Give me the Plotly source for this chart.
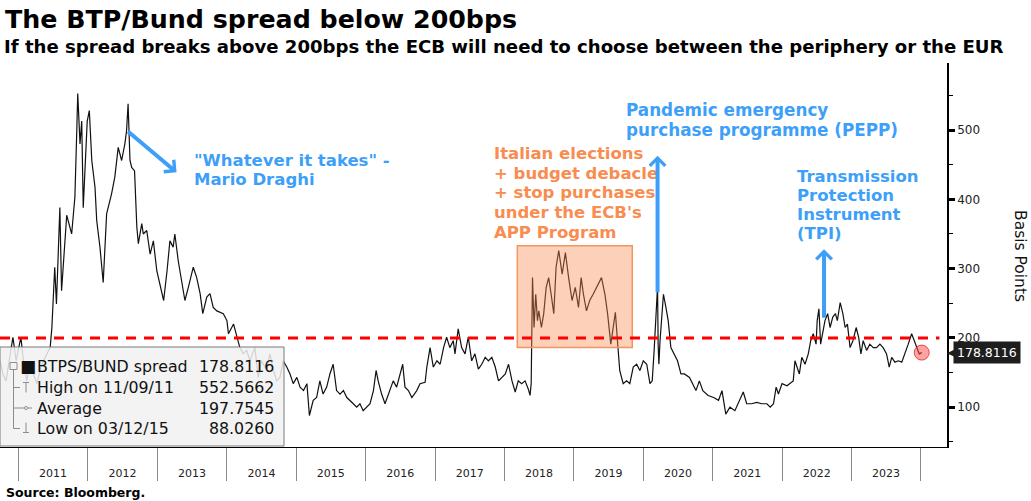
import plotly.graph_objects as go

# ---------------- data ----------------
dates = [
 "2010-09-27","2010-10-11","2010-10-28","2010-11-15","2010-12-03","2010-12-20","2011-01-14","2011-01-27",
 "2011-02-14","2011-03-04","2011-03-21","2011-04-08","2011-04-25","2011-05-13","2011-05-30","2011-06-17",
 "2011-06-26","2011-07-11","2011-07-20","2011-08-07","2011-08-16","2011-09-12","2011-10-08","2011-10-25",
 "2011-11-04","2011-11-09","2011-11-21","2011-11-30","2011-12-08","2011-12-22","2011-12-29","2012-01-09",
 "2012-01-22","2012-02-08","2012-02-17","2012-03-05","2012-03-22","2012-04-09","2012-05-05","2012-05-22",
 "2012-06-09","2012-06-27","2012-07-14","2012-07-23","2012-07-31","2012-08-10","2012-08-19","2012-09-03",
 "2012-09-15","2012-09-23","2012-10-11","2012-10-19","2012-11-06","2012-11-24","2012-12-11","2012-12-29",
 "2013-01-16","2013-02-03","2013-02-21","2013-03-08","2013-03-25","2013-04-03","2013-04-21","2013-05-09",
 "2013-05-26","2013-06-13","2013-07-09","2013-07-27","2013-08-14","2013-08-28","2013-09-18","2013-10-05",
 "2013-10-22","2013-11-10","2013-11-27","2013-12-14","2014-01-02","2014-01-10","2014-02-06","2014-02-24",
 "2014-03-11","2014-03-29","2014-04-16","2014-05-03","2014-05-29","2014-06-16","2014-07-03","2014-07-30",
 "2014-08-16","2014-09-04","2014-09-21","2014-10-08","2014-10-25","2014-11-13","2014-11-30","2014-12-17",
 "2015-01-05","2015-01-22","2015-02-09","2015-02-27","2015-03-12","2015-04-01","2015-04-19","2015-05-06",
 "2015-05-23","2015-06-11","2015-06-28","2015-07-15","2015-08-02","2015-08-20","2015-09-07","2015-09-25",
 "2015-10-12","2015-10-29","2015-11-16","2015-12-03","2015-12-20","2016-01-08","2016-01-25","2016-02-12",
 "2016-02-26","2016-03-08","2016-03-26","2016-04-13","2016-04-30","2016-05-09","2016-05-26","2016-06-13",
 "2016-07-01","2016-07-15","2016-07-27","2016-08-14","2016-09-01","2016-09-27","2016-10-14","2016-11-10",
 "2016-11-19","2016-12-06","2016-12-23","2017-01-11","2017-01-28","2017-02-15","2017-03-03","2017-03-20",
 "2017-04-07","2017-04-16","2017-05-03","2017-05-21","2017-06-08","2017-06-25","2017-07-13","2017-07-30",
 "2017-08-17","2017-09-04","2017-09-22","2017-10-09","2017-10-27","2017-11-14","2017-12-01","2017-12-19",
 "2018-01-06","2018-01-23","2018-02-10","2018-02-27","2018-03-15","2018-04-02","2018-04-20","2018-05-07",
 "2018-05-16","2018-05-22","2018-05-25","2018-05-29","2018-06-06","2018-06-15","2018-06-24","2018-07-01",
 "2018-07-15","2018-07-27","2018-08-09","2018-08-22","2018-09-04","2018-09-18","2018-09-30","2018-10-14",
 "2018-11-01","2018-11-18","2018-12-05","2018-12-23","2019-01-09","2019-01-26","2019-02-09","2019-02-21",
 "2019-03-09","2019-03-26","2019-04-13","2019-05-09","2019-05-27","2019-06-14","2019-06-28","2019-07-15",
 "2019-07-27","2019-08-08","2019-08-19","2019-08-31","2019-09-18","2019-10-06","2019-10-23","2019-11-10",
 "2019-11-28","2019-12-15","2020-01-02","2020-01-20","2020-02-06","2020-02-18","2020-02-28","2020-03-11",
 "2020-03-17","2020-03-20","2020-03-24","2020-03-30","2020-04-17","2020-04-30","2020-05-12","2020-05-26",
 "2020-06-13","2020-06-30","2020-07-18","2020-08-05","2020-09-01","2020-09-18","2020-10-05","2020-10-23",
 "2020-11-10","2020-12-08","2021-01-06","2021-02-01","2021-02-19","2021-03-11","2021-04-02","2021-04-28",
 "2021-05-24","2021-06-11","2021-06-29","2021-07-25","2021-08-21","2021-09-17","2021-10-13","2021-10-31",
 "2021-11-17","2021-12-01","2021-12-13","2022-01-01","2022-01-27","2022-02-22","2022-03-01","2022-03-10",
 "2022-03-22","2022-04-02","2022-04-15","2022-05-02","2022-05-19","2022-06-01","2022-06-14","2022-06-29",
 "2022-07-05","2022-07-14","2022-07-23","2022-08-03","2022-08-15","2022-08-29","2022-09-11","2022-09-25",
 "2022-10-09","2022-10-19","2022-11-03","2022-11-17","2022-11-29","2022-12-11","2022-12-25","2023-01-09",
 "2023-01-26","2023-02-08","2023-02-20","2023-03-04","2023-03-22","2023-04-08","2023-04-26","2023-05-13",
 "2023-05-31","2023-06-17","2023-07-05","2023-07-19","2023-08-01","2023-08-18","2023-09-05","2023-09-23",
 "2023-10-10","2023-10-27","2023-11-14","2023-11-27","2023-12-10","2023-12-24","2024-01-06",
]
spread_bps = [
 167,148,138,167,201,167,201,167,
 138,167,148,134,153,167,177,186,
 215,302,249,388,268,377,350,403,
 499,552.5662,480,513,388,490,513,528,
 456,417,369,331,280,379,408,432,
 475,456,480,499,538,456,446,441,
 360,336,365,350,355,321,340,297,
 273,254,297,340,331,350,311,278,
 254,273,302,287,264,235,259,264,
 244,239,237,235,225,206,220,201,
 186,177,182,167,186,143,167,153,
 177,153,138,143,167,158,148,134,
 143,129,124,134,88.026,110,114,138,
 119,129,148,162,124,119,124,114,
 110,105,100,105,95,100,105,124,
 153,138,119,105,119,124,138,129,
 148,162,129,124,114,124,134,136,
 158,186,158,167,162,186,201,186,
 196,177,213,186,177,201,167,177,
 155,162,172,167,172,158,138,143,
 148,162,138,122,138,134,138,126,
 117,134,191,287,215,263,225,239,
 215,235,273,287,263,235,302,326,
 292,323,287,254,273,244,287,263,
 239,254,263,278,287,263,235,191,
 215,237,196,153,134,138,134,158,
 162,153,167,162,134,138,182,240,
 275,191,162,196,263,244,225,186,
 177,167,148,148,143,134,124,138,
 124,117,114,110,124,90,100,95,
 110,122,105,105,107,105,105,100,
 105,129,119,134,131,136,138,167,
 158,148,172,162,177,196,206,191,
 225,242,191,206,225,235,215,230,
 235,225,251,235,215,220,186,196,
 215,201,177,196,182,191,186,186,
 191,186,177,158,172,165,167,165,
 177,191,206,196,186,177,178.8116,
]
threshold_bps = 200
last_value = 178.8116

legend_labels = ["BTPS/BUND spread", "High on 11/09/11", "Average", "Low on 03/12/15"]
legend_values = ["178.8116", "552.5662", "197.7545", "88.0260"]

# annotation periods / anchor points
box_period = ["2018-03-10", "2019-11-05"]
box_range = [186, 333]
draghi_head = ("2013-04-12", 439)
pepp_head = ("2020-03-17", 463)
tpi_head = ("2022-08-10", 328)

draghi_lines = ['"Whatever it takes" -', 'Mario Draghi']
pepp_lines = ['Pandemic emergency', 'purchase programme (PEPP)']
italy_lines = ['Italian elections', '+ budget debacle', '+ stop purchases', "under the ECB's", 'APP Program']
tpi_lines = ['Transmission', 'Protection', 'Instrument', '(TPI)']

# ---------------- layout helpers (pixels -> paper) ----------------
W, H = 1031, 501
L, R, T, B = 0, 84, 63, 54
PW, PH = W - L - R, H - T - B
def px(x):
    return (x - L) / PW
def py(y):
    return (H - B - y) / PH

BLUE = "#3d9ff8"
ORANGE = "#f98c50"
FONT = "DejaVu Sans"

fig = go.Figure()
fig.add_trace(go.Scatter(x=dates, y=spread_bps, mode="lines",
                         line=dict(color="#111111", width=1.2), hoverinfo="x+y",
                         showlegend=False))
fig.add_trace(go.Scatter(x=[dates[-1]], y=[last_value], mode="markers",
                         marker=dict(size=15, color="rgba(255,70,70,0.5)",
                                     line=dict(color="rgba(230,40,40,0.8)", width=1)),
                         showlegend=False, hoverinfo="skip"))

GREY = "#8c8c8c"
rows_y = [366, 387.5, 408, 428.5]
shapes = [
    dict(type="rect", xref="x", yref="y", x0=box_period[0], x1=box_period[1],
         y0=box_range[0], y1=box_range[1], fillcolor="rgba(250,140,80,0.40)",
         line=dict(color="#f3955e", width=1.5), layer="above"),
    dict(type="line", xref="paper", yref="y", x0=0, x1=0.992, y0=threshold_bps, y1=threshold_bps,
         line=dict(color="#ff0000", width=3, dash="10px,8px"), layer="above"),
    dict(type="rect", xref="paper", yref="paper", x0=px(0), x1=px(284), y0=py(446), y1=py(347),
         fillcolor="rgba(241,241,241,0.86)", line=dict(color="#7a7a7a", width=1), layer="above"),
    # legend tree decoration
    dict(type="rect", xref="paper", yref="paper", x0=px(10), x1=px(17), y0=py(rows_y[0] + 3.5),
         y1=py(rows_y[0] - 3.5), line=dict(color=GREY, width=1), fillcolor="rgba(0,0,0,0)", layer="above"),
    dict(type="line", xref="paper", yref="paper", x0=px(13.5), x1=px(13.5), y0=py(rows_y[0] + 4),
         y1=py(rows_y[3]), line=dict(color=GREY, width=1), layer="above"),
]
for ry in rows_y[1:]:
    shapes.append(dict(type="line", xref="paper", yref="paper", x0=px(13.5), x1=px(20), y0=py(ry),
                       y1=py(ry), line=dict(color=GREY, width=1), layer="above"))
shapes += [
    dict(type="line", xref="paper", yref="paper", x0=px(20), x1=px(32), y0=py(rows_y[2]),
         y1=py(rows_y[2]), line=dict(color=GREY, width=1), layer="above"),
    dict(type="line", xref="paper", yref="paper", x0=px(26), x1=px(26), y0=py(rows_y[1] - 5),
         y1=py(rows_y[1] + 5), line=dict(color=GREY, width=1), layer="above"),
    dict(type="line", xref="paper", yref="paper", x0=px(23), x1=px(29), y0=py(rows_y[1] - 5),
         y1=py(rows_y[1] - 5), line=dict(color=GREY, width=1), layer="above"),
    dict(type="line", xref="paper", yref="paper", x0=px(26), x1=px(26), y0=py(rows_y[3] - 6),
         y1=py(rows_y[3] + 4), line=dict(color=GREY, width=1), layer="above"),
    dict(type="line", xref="paper", yref="paper", x0=px(23), x1=px(29), y0=py(rows_y[3] + 4),
         y1=py(rows_y[3] + 4), line=dict(color=GREY, width=1), layer="above"),
    dict(type="circle", xref="paper", yref="paper", x0=px(24.5), x1=px(27.5), y0=py(rows_y[2] + 1.5),
         y1=py(rows_y[2] - 1.5), line=dict(color=GREY, width=1), fillcolor="white", layer="above"),
]

ann = []
# title / subtitle / source
ann.append(dict(text="<b>The BTP/Bund spread below 200bps</b>", xref="paper", yref="paper",
                x=px(3), y=py(20), xanchor="left", yanchor="middle", showarrow=False,
                font=dict(family=FONT, size=25.3, color="#000")))
ann.append(dict(text="<b>If the spread breaks above 200bps the ECB will need to choose between the periphery or the EUR</b>",
                xref="paper", yref="paper", x=px(2), y=py(46), xanchor="left", yanchor="middle",
                showarrow=False, font=dict(family=FONT, size=18.1, color="#000")))
ann.append(dict(text="<b>Source: Bloomberg.</b>", xref="paper", yref="paper", x=px(4), y=py(492),
                xanchor="left", yanchor="middle", showarrow=False,
                font=dict(family=FONT, size=12.5, color="#000")))
ann.append(dict(text="Basis Points", xref="paper", yref="paper", x=px(1020), y=py(256),
                xanchor="center", yanchor="middle", showarrow=False, textangle=90,
                font=dict(family=FONT, size=15.5, color="#111")))

def text_block(lines, x0, y0, step, color, size=16.5):
    for i, t in enumerate(lines):
        ann.append(dict(text="<b>" + t + "</b>", xref="paper", yref="paper", x=px(x0),
                        y=py(y0 + i * step), xanchor="left", yanchor="middle", showarrow=False,
                        font=dict(family=FONT, size=size, color=color)))

text_block(draghi_lines, 192, 160, 19.5, BLUE)
text_block(pepp_lines, 624, 110, 19.5, BLUE, 16.8)
text_block(italy_lines, 492, 153.5, 19.7, ORANGE)
text_block(tpi_lines, 795, 176.5, 19.0, BLUE)

# arrows
ann.append(dict(x=draghi_head[0], y=draghi_head[1], xref="x", yref="y", ax=-50, ay=-42,
                showarrow=True, arrowhead=4, arrowsize=0.75, arrowwidth=4, arrowcolor=BLUE, text=""))
ann.append(dict(x=pepp_head[0], y=pepp_head[1], xref="x", yref="y", ax=0, ay=138,
                showarrow=True, arrowhead=4, arrowsize=0.75, arrowwidth=4, arrowcolor=BLUE, text=""))
ann.append(dict(x=tpi_head[0], y=tpi_head[1], xref="x", yref="y", ax=0, ay=70,
                showarrow=True, arrowhead=4, arrowsize=0.75, arrowwidth=4, arrowcolor=BLUE, text=""))

# last value tag
ann.append(dict(text="◀", xref="paper", yref="y", x=1.0, y=last_value, xanchor="left",
                yanchor="middle", xshift=-2, showarrow=False,
                font=dict(family=FONT, size=11, color="#1e1e1e")))
ann.append(dict(text=f"{last_value:.4f}", xref="paper", yref="y", x=1.0, y=last_value,
                xanchor="left", yanchor="middle", xshift=6, showarrow=False,
                bgcolor="#1e1e1e", borderpad=3, font=dict(family=FONT, size=12.5, color="#fff")))

# legend box content
ann.append(dict(text="■", xref="paper", yref="paper", x=px(18), y=py(rows_y[0]), xanchor="left",
                yanchor="middle", showarrow=False, font=dict(family=FONT, size=17, color="#111")))
for i, (lab, val) in enumerate(zip(legend_labels, legend_values)):
    ann.append(dict(text=lab, xref="paper", yref="paper", x=px(35), y=py(rows_y[i]), xanchor="left",
                    yanchor="middle", showarrow=False, font=dict(family=FONT, size=15.8, color="#111")))
    ann.append(dict(text=val, xref="paper", yref="paper", x=px(276), y=py(rows_y[i]), xanchor="right",
                    yanchor="middle", showarrow=False, font=dict(family=FONT, size=15.8, color="#111")))

fig.update_layout(
    width=W, height=H, margin=dict(l=L, r=R, t=T, b=B, pad=0),
    paper_bgcolor="white", plot_bgcolor="white", showlegend=False,
    shapes=shapes, annotations=ann,
    xaxis=dict(type="date", range=["2010-09-26", "2024-05-18"], showgrid=False, zeroline=False,
               showline=True, linecolor="#000", linewidth=1.2,
               ticks="outside", ticklen=33, tickcolor="#8a8a8a", tickwidth=1,
               dtick="M12", tick0="2011-01-01", ticklabelmode="period", tickformat="%Y",
               ticklabelstandoff=-17, tickfont=dict(family=FONT, size=11, color="#222")),
    yaxis=dict(side="right", range=[42.6, 596.7], showgrid=False, zeroline=False,
               showline=True, linecolor="#000", linewidth=1.5,
               tickvals=[100, 200, 300, 400, 500], ticks="outside", ticklen=6, tickwidth=2.5,
               tickcolor="#000", tickfont=dict(family=FONT, size=12, color="#222"),
               minor=dict(dtick=50, tick0=0, ticks="outside", ticklen=4, tickcolor="#000",
                          tickwidth=1, showgrid=False)),
)

fig.write_html("out.html", config={"displayModeBar": False},
               post_script="document.body.style.margin='0';document.body.style.overflow='hidden';")
